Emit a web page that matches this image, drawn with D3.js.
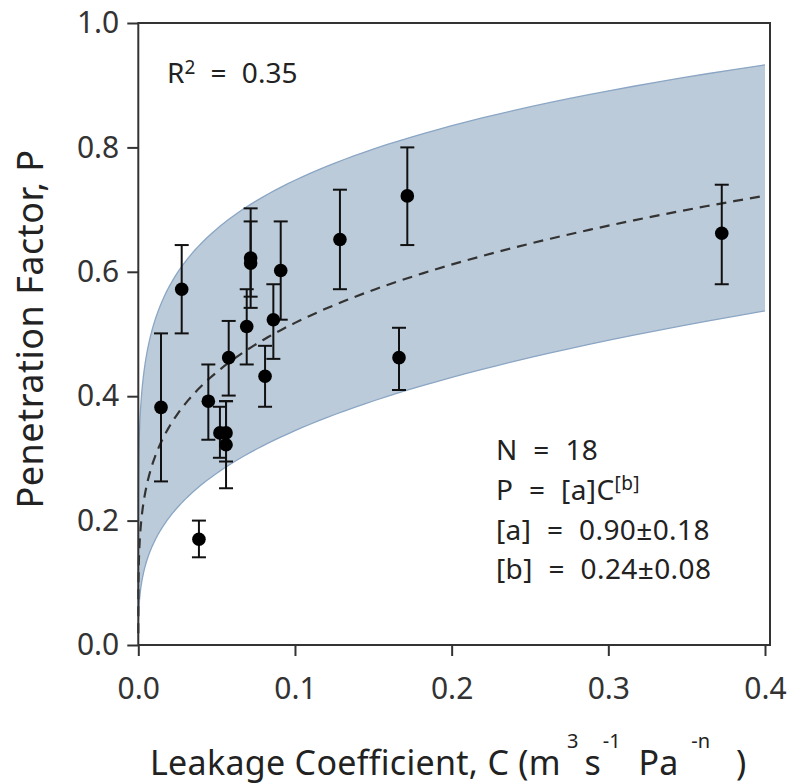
<!DOCTYPE html>
<html>
<head>
<meta charset="utf-8">
<script src="https://cdn.jsdelivr.net/npm/d3@7"></script>
<style>
  body { margin: 0; background: #fff; }
  svg text { font-family: "Noto Sans", "Open Sans", sans-serif; fill: #222; }
</style>
</head>
<body>
<div class="chart"></div>
<script>
// measured points: leakage coefficient C, penetration factor P, error bar low/high
const leakC = [0.0145, 0.0277, 0.0387, 0.0447, 0.0521, 0.056, 0.056, 0.0577, 0.0692,
               0.0717, 0.0717, 0.0809, 0.0862, 0.0909, 0.1287, 0.1664, 0.1717, 0.3724];
const penP  = [0.382, 0.572, 0.170, 0.392, 0.341, 0.341, 0.322, 0.462, 0.512,
               0.622, 0.614, 0.432, 0.523, 0.602, 0.652, 0.462, 0.722, 0.662];
const errLo = [0.263, 0.501, 0.141, 0.330, 0.301, 0.295, 0.252, 0.401, 0.451,
               0.542, 0.560, 0.383, 0.460, 0.523, 0.572, 0.410, 0.643, 0.580];
const errHi = [0.501, 0.643, 0.200, 0.451, 0.383, 0.392, 0.392, 0.521, 0.572,
               0.702, 0.681, 0.481, 0.580, 0.681, 0.732, 0.510, 0.800, 0.740];

// fit P = a * C^b, with the +/- values shown on the chart
const fitA = [0.90, 0.18];
const fitB = [0.24, 0.08];

const xTicks = [0, 0.1, 0.2, 0.3, 0.4];
const yTicks = [0, 0.2, 0.4, 0.6, 0.8, 1.0];

const w = 787, h = 784;
const padLeft = 138.3, padTop = 23, padBottom = 645, xEnd = 765, frameRight = 770;

const x = d3.scaleLinear().domain([0, 0.4]).range([padLeft, xEnd]);
const y = d3.scaleLinear().domain([0, 1]).range([padBottom, padTop]);

const svg = d3.select(".chart").append("svg")
    .attr("width", w)
    .attr("height", h);

// sample C on a log grid so the curve reaches down toward zero
const cGrid = d3.range(-7, Math.log10(0.4), 0.02).map(e => Math.pow(10, e)).concat([0.4]);
const fitP = c => fitA[0] * Math.pow(c, fitB[0]);
const upP = c => (fitA[0] + fitA[1]) * Math.pow(c, fitB[0] - fitB[1]);
const loP = c => (fitA[0] - fitA[1]) * Math.pow(c, fitB[0] + fitB[1]);

svg.append("path")
    .datum(cGrid)
    .attr("fill", "#bccbd9")
    .attr("d", d3.area().x(d => x(d)).y0(d => y(loP(d))).y1(d => y(upP(d))));

[upP, loP].forEach(f => {
    svg.append("path")
        .datum(cGrid)
        .attr("fill", "none")
        .attr("stroke", "#8aa6c4")
        .attr("stroke-width", 1.3)
        .attr("d", d3.line().x(d => x(d)).y(d => y(f(d))));
});

svg.append("path")
    .datum(cGrid)
    .attr("fill", "none")
    .attr("stroke", "#333")
    .attr("stroke-width", 2.2)
    .attr("stroke-dasharray", "10,7")
    .attr("d", d3.line().x(d => x(d)).y(d => y(fitP(d))));

// error bars
const idx = d3.range(leakC.length);
const bars = svg.append("g").attr("stroke", "#111").attr("stroke-width", 2);
bars.selectAll(".stem").data(idx).enter().append("line")
    .attr("x1", i => x(leakC[i])).attr("x2", i => x(leakC[i]))
    .attr("y1", i => y(errLo[i])).attr("y2", i => y(errHi[i]));
bars.selectAll(".capLo").data(idx).enter().append("line")
    .attr("x1", i => x(leakC[i]) - 7).attr("x2", i => x(leakC[i]) + 7)
    .attr("y1", i => y(errLo[i])).attr("y2", i => y(errLo[i]));
bars.selectAll(".capHi").data(idx).enter().append("line")
    .attr("x1", i => x(leakC[i]) - 7).attr("x2", i => x(leakC[i]) + 7)
    .attr("y1", i => y(errHi[i])).attr("y2", i => y(errHi[i]));

svg.selectAll("circle").data(idx).enter().append("circle")
    .attr("cx", i => x(leakC[i]))
    .attr("cy", i => y(penP[i]))
    .attr("r", 6.8)
    .attr("fill", "#000");

// axes
const xAxis = d3.axisBottom(x).tickValues(xTicks).tickFormat(d3.format(".1f")).tickSize(11).tickPadding(22);
const yAxis = d3.axisLeft(y).tickValues(yTicks).tickFormat(d3.format(".1f")).tickSize(11).tickPadding(8);

const gx = svg.append("g").attr("transform", `translate(0, ${padBottom})`).call(xAxis);
const gy = svg.append("g").attr("transform", `translate(${padLeft}, 0)`).call(yAxis);
[gx, gy].forEach(g => {
    g.select(".domain").remove();
    g.selectAll(".tick line").attr("stroke", "#333").attr("stroke-width", 2);
    g.selectAll(".tick text").attr("font-size", 30).style("fill", "#333");
});

// frame
svg.append("rect")
    .attr("x", padLeft).attr("y", padTop)
    .attr("width", frameRight - padLeft).attr("height", padBottom - padTop)
    .attr("fill", "none").attr("stroke", "#333").attr("stroke-width", 2);

// annotations
const r2 = svg.append("text").attr("x", 167).attr("y", 83).attr("font-size", 28)
    .style("word-spacing", "8px");
r2.append("tspan").text("R");
r2.append("tspan").attr("font-size", 19).attr("dy", -9).text("2");
r2.append("tspan").attr("dy", 9).text(" = 0.35");

const stats = svg.append("g").attr("font-size", 28)
    .style("word-spacing", "8px").style("letter-spacing", "0.4px");
stats.append("text").attr("x", 496).attr("y", 460).text("N = 18");
const pl = stats.append("text").attr("x", 496).attr("y", 500);
pl.append("tspan").text("P = [a]C");
pl.append("tspan").attr("font-size", 19).attr("dy", -10).text("[b]");
stats.append("text").attr("x", 496).attr("y", 540).text("[a] = 0.90\u00b10.18");
stats.append("text").attr("x", 496).attr("y", 579).text("[b] = 0.24\u00b10.08");

// axis titles
svg.append("text")
    .attr("transform", "translate(43, 329) rotate(-90)")
    .attr("text-anchor", "middle")
    .attr("font-size", 36)
    .style("letter-spacing", "0.5px")
    .text("Penetration Factor, P");

const xl = svg.append("text").attr("x", 150).attr("y", 775).attr("font-size", 34);
xl.append("tspan").style("letter-spacing", "0.3px").text("Leakage Coefficient, C (m");
xl.append("tspan").attr("font-size", 20).attr("dy", -27).attr("dx", 6).text("3");
xl.append("tspan").attr("dy", 27).attr("dx", 6).text("s");
xl.append("tspan").attr("font-size", 20).attr("dy", -27).attr("dx", 2).text("-1");
xl.append("tspan").attr("dy", 27).attr("dx", 18).text("Pa");
xl.append("tspan").attr("font-size", 20).attr("dy", -27).attr("dx", 13).text("-n");
xl.append("tspan").attr("dy", 27).attr("dx", 26).text(")");
</script>
</body>
</html>
